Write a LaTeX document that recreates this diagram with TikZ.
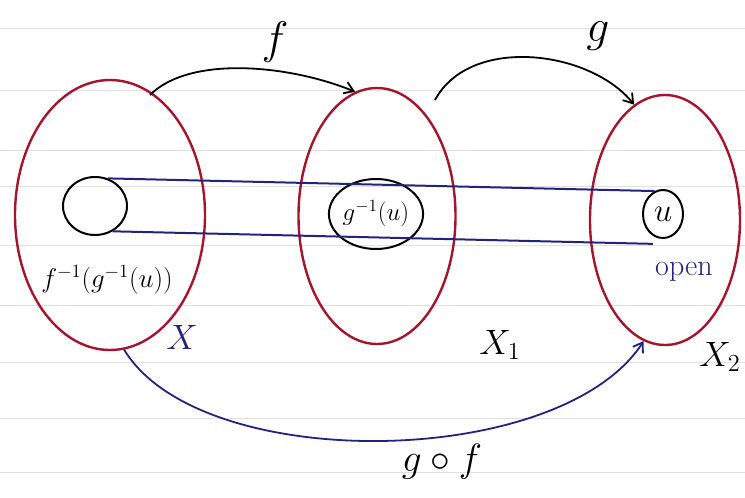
\documentclass[tikz,border=0pt]{standalone}
\usepackage{graphicx, amsmath, amssymb}
\usetikzlibrary{shapes.geometric, arrows.meta, calc}

\definecolor{setred}{RGB}{165,20,45}
\definecolor{penblue}{RGB}{35,35,125}

\newcommand{\handtext}[2][1.6]{\scalebox{#1}{#2}}

\tikzset{
    setshape/.style={ellipse, draw=setred, line width=2.4pt, inner sep=0pt},
    subset/.style={ellipse, draw, line width=2pt, inner sep=0pt},
    tube/.style={draw=penblue, line width=2pt},
    maparrow/.style={line width=1.8pt, -{Straight Barb[length=9pt, width=12pt]}},
    hand/.style={font=\huge}
}

\begin{document}
\begin{tikzpicture}[x=1pt, y=-1pt]
    \useasboundingbox (0,0) rectangle (745,498);
    % ruled paper
    \foreach \yy in {28, 90, 150, 186, 245, 305, 362, 418, 472}
        \draw[black!12, line width=1pt] (0,\yy) -- (745,\yy);

    % Draw sets
    \node[setshape, minimum width=190pt, minimum height=270pt] (X) at (110,215) {};
    \node[setshape, minimum width=157pt, minimum height=256pt] (X1) at (377,216) {};
    \node[setshape, minimum width=150pt, minimum height=250pt] (X2) at (665,220) {};

    % Draw subsets
    \node[subset, minimum width=64pt, minimum height=58pt] (pre) at (95,206) {};
    \node[subset, minimum width=68pt, minimum height=70pt, hand] (mid) at (376,214) {\handtext[1.2]{$g^{-1}(u)$}};
    \node[subset, minimum width=40pt, minimum height=48pt] (u) at (663,214) {};
    \node[hand] at (u) {\handtext{$u$}};

    % Draw tube
    \draw[tube] (pre.65) -- (u.110);
    \draw[tube] (pre.-55) -- ($(u.-115)+(0,8)$);

    % Draw connections
    \coordinate (fs) at (150,95);
    \coordinate (gs) at (435,100);
    \draw[maparrow] (fs) .. controls (190,55) and (290,65) .. (X1.100);
    \draw[maparrow] (gs) .. controls (470,35) and (590,50) .. (X2.105);
    \draw[maparrow, penblue] (X.-84) .. controls (200,475) and (560,470) .. (X2.-100);

    % Labels
    \node[hand] at (275,42) {\handtext[2.2]{$f$}};
    \node[hand] at (598,36) {\handtext[2.2]{$g$}};
    \node[hand] at (442,462) {\handtext[1.9]{$g\circ f$}};
    \node[hand] at (107,280) {\handtext[1.3]{$f^{-1}(g^{-1}(u))$}};
    \node[hand, penblue] at (182,337) {\handtext[1.7]{$X$}};
    \node[hand] at (500,345) {\handtext[1.7]{$X_1$}};
    \node[hand] at (720,357) {\handtext[1.7]{$X_2$}};
    \node[hand, penblue] at (684,272) {\handtext[1.45]{open}};
\end{tikzpicture}
\end{document}
